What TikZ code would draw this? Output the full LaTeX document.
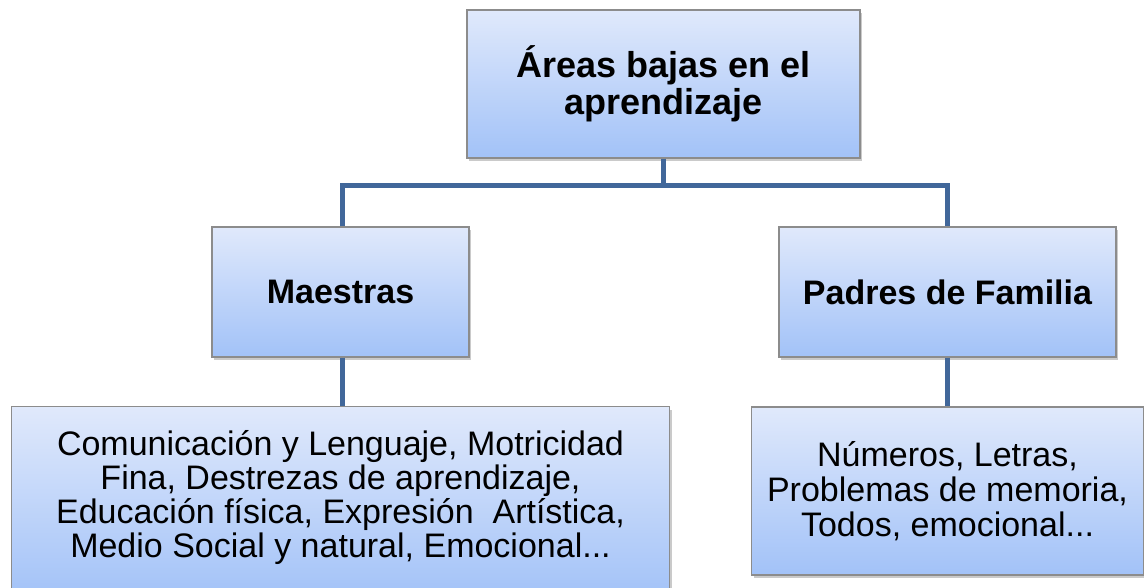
\documentclass[tikz,border=0pt]{standalone}
\usepackage{fontspec}
\setmainfont{Liberation Sans}
\usetikzlibrary{shadows}

\definecolor{boxtop}{RGB}{224,233,251}
\definecolor{boxbottom}{RGB}{162,194,248}
\definecolor{boxline}{RGB}{140,140,140}
\definecolor{conn}{RGB}{65,103,154}

\tikzstyle{s} = [rectangle, draw=boxline, line width=0.6pt, top color=boxtop, bottom color=boxbottom, align=center, inner sep=0pt, drop shadow={shadow xshift=1pt, shadow yshift=-1.5pt, opacity=0.35, fill=black!60}]
\tikzstyle{l} = [line width=2.5pt, draw=conn]

\begin{document}
\begin{tikzpicture}[-,auto,semithick]
\useasboundingbox (0,0) rectangle (572pt,-294pt);

\node[s, minimum width=196.5pt, minimum height=74pt, font=\bfseries\fontsize{18pt}{18.5pt}\selectfont] (AreasBajas) at (331.75pt,-42pt) {Áreas bajas en el\\aprendizaje};

\node[s, minimum width=128.5pt, minimum height=65pt, font=\bfseries\fontsize{17pt}{17.5pt}\selectfont] (Maestras) [below of=AreasBajas, node distance=104pt, xshift=-161.5pt] {Maestras};
\node[s, minimum width=168.5pt, minimum height=65pt, font=\bfseries\fontsize{17pt}{17.5pt}\selectfont] (Padres) [right of=Maestras, node distance=303.5pt] {Padres de Familia};

\node[s, minimum width=329pt, minimum height=96.5pt, text depth=9pt, font=\fontsize{17pt}{17pt}\selectfont] (ListaMaestras) [below of=Maestras, node distance=105.5pt] {Comunicación y Lenguaje, Motricidad\\Fina, Destrezas de aprendizaje,\\Educación física, Expresión~ Artística,\\Medio Social y natural, Emocional...};
\node[s, minimum width=196pt, minimum height=84pt, font=\fontsize{17pt}{17.5pt}\selectfont] (ListaPadres) [below of=Padres, node distance=99.5pt] {Números, Letras,\\Problemas de memoria,\\Todos, emocional...};

\coordinate (Rama) at ([yshift=-13.5pt]AreasBajas.south);

\draw[l] (AreasBajas.south) -- (Rama);
\draw[l] ([xshift=1.2pt]Maestras.north) |- (Rama) -| (Padres.north);
\draw[l] ([xshift=1.2pt]Maestras.south) -- ([xshift=1.2pt]Maestras.south |- ListaMaestras.north);
\draw[l] (Padres.south) -- (Padres.south |- ListaPadres.north);

\end{tikzpicture}
\end{document}
